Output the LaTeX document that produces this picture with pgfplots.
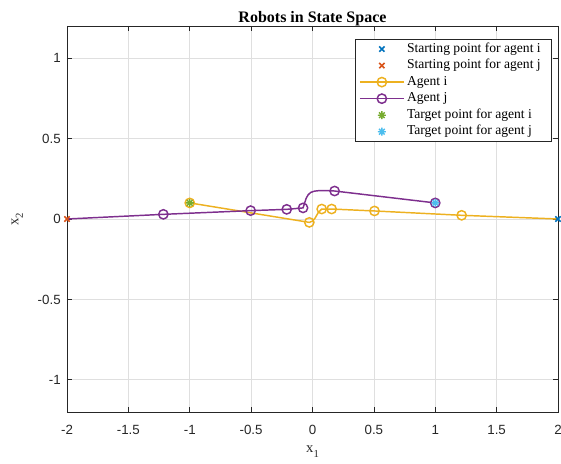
\documentclass[border=0pt]{standalone}
\usepackage{fontspec}
\setmainfont{Liberation Serif}
\newfontfamily\arial{Liberation Sans}
\usepackage{pgfplots}
\pgfplotsset{compat=1.18}

\definecolor{mblue}{RGB}{0,114,189}
\definecolor{mred}{RGB}{217,83,25}
\definecolor{myellow}{RGB}{237,177,32}
\definecolor{mpurple}{RGB}{126,47,142}
\definecolor{mgreen}{RGB}{119,172,48}
\definecolor{mcyan}{RGB}{77,190,238}
\definecolor{axgray}{RGB}{38,38,38}
\definecolor{gridgray}{RGB}{223,223,223}

% matlab style asterisk (8 arms)
\pgfdeclareplotmark{ast8}{%
  \pgfpathmoveto{\pgfqpoint{-\pgfplotmarksize}{0pt}}\pgfpathlineto{\pgfqpoint{\pgfplotmarksize}{0pt}}%
  \pgfpathmoveto{\pgfqpoint{0pt}{-\pgfplotmarksize}}\pgfpathlineto{\pgfqpoint{0pt}{\pgfplotmarksize}}%
  \pgfpathmoveto{\pgfqpoint{-0.707\pgfplotmarksize}{-0.707\pgfplotmarksize}}\pgfpathlineto{\pgfqpoint{0.707\pgfplotmarksize}{0.707\pgfplotmarksize}}%
  \pgfpathmoveto{\pgfqpoint{-0.707\pgfplotmarksize}{0.707\pgfplotmarksize}}\pgfpathlineto{\pgfqpoint{0.707\pgfplotmarksize}{-0.707\pgfplotmarksize}}%
  \pgfusepathqstroke}

\begin{document}
\begin{tikzpicture}
\begin{axis}[
    name=ax,
    scale only axis,
    width=368.25pt, height=289.5pt,
    xmin=-2, xmax=2, ymin=-1.2, ymax=1.2,
    xtick={-2,-1.5,-1,-0.5,0,0.5,1,1.5,2},
    ytick={-1,-0.5,0,0.5,1},
    grid=major,
    major grid style={gridgray, line width=0.5pt},
    axis line style={axgray, line width=0.5pt},
    tick style={axgray, line width=0.5pt},
    tick align=inside,
    major tick length=3.7pt,
    /pgf/number format/assume math mode=true,
    ticklabel style={font=\arial\fontsize{10}{12}\selectfont, text=axgray},
    xticklabel style={yshift=-6.5pt},
    yticklabel style={xshift=-1.2pt},
    title={Robots in State Space},
    every axis title shift=0pt,
    title style={at={(axis description cs:0.5,1.0088)}, anchor=base, font=\bfseries\fontsize{12}{14}\selectfont},
    xlabel={x\raisebox{-3.5pt}{\fontsize{8}{8}\selectfont 1}},
    ylabel={x\raisebox{-3.5pt}{\fontsize{8}{8}\selectfont 2}},
    every axis x label/.style={at={(axis description cs:0.5,-0.1062)}, anchor=base, font=\fontsize{11}{13}\selectfont, text=axgray},
    every axis y label/.style={at={(axis description cs:-0.0992,0.5)}, rotate=90, anchor=base, font=\fontsize{11}{13}\selectfont, text=axgray},
    legend image code/.code={\draw[#1, mark indices={2}] plot coordinates {(0pt,0pt) (16.5pt,0pt) (33pt,0pt)};},
    legend style={at={(0.988,0.966)}, anchor=north east, draw=axgray, line width=0.5pt,
        font=\fontsize{10.2}{12}\selectfont, row sep=0pt, inner xsep=2.5pt, inner ysep=1pt,
        nodes={inner sep=1.8pt, text height=6.8pt, text depth=2pt}},
    legend cell align=left,
]

\addplot[only marks, mark=x, mark size=2.8pt, line width=1.2pt, mblue] coordinates {(2,0)};
\addlegendentry{Starting point for agent i\kern4pt}

\addplot[only marks, mark=x, mark size=2.8pt, line width=1.2pt, mred] coordinates {(-2,0)};
\addlegendentry{Starting point for agent j}

\addplot[myellow, line width=1.1pt, mark=o, mark size=3.5pt, mark indices={2,3,4,5,9,10}] coordinates {
    (2,0)
    (1.215,0.023)
    (0.505,0.05)
    (0.156,0.062)
    (0.075,0.062)
    (0.047,0.04)
    (0.02,0.004)
    (0.0,-0.013)
    (-0.026,-0.021)
    (-1,0.1)
};
\addlegendentry{Agent i}

\addplot[mpurple, line width=1.1pt, mark=o, mark size=3.5pt, mark indices={2,3,4,5,13,14}] coordinates {
    (-2,0)
    (-1.215,0.029)
    (-0.504,0.052)
    (-0.21,0.06)
    (-0.077,0.069)
    (-0.066,0.095)
    (-0.052,0.128)
    (-0.036,0.150)
    (-0.015,0.165)
    (0.015,0.173)
    (0.06,0.177)
    (0.11,0.177)
    (0.18,0.174)
    (1,0.1)
};
\addlegendentry{Agent j}

\addplot[only marks, mark=ast8, mark size=3pt, line width=1pt, mgreen] coordinates {(-1,0.1)};
\addlegendentry{Target point for agent i}

\addplot[only marks, mark=ast8, mark size=3pt, line width=1pt, mcyan] coordinates {(1,0.1)};
\addlegendentry{Target point for agent j}

\end{axis}
\pgfresetboundingbox
\path[use as bounding box] ([xshift=-50.25pt,yshift=-39pt]ax.south west) rectangle ([xshift=2.25pt,yshift=19.5pt]ax.north east);
\end{tikzpicture}
\end{document}
